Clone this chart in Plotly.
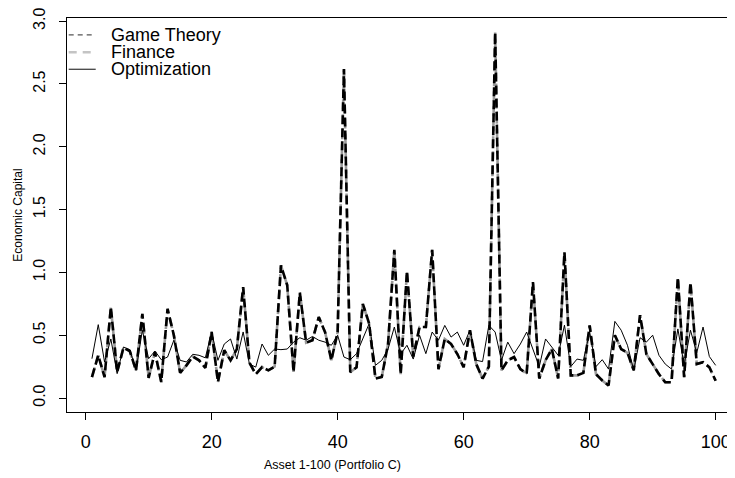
import plotly.graph_objects as go

# asset index and economic capital per allocation method
assets = list(range(1, 101))

game_theory = [
    0.167, 0.34, 0.167, 0.724, 0.207, 0.40, 0.374, 0.22, 0.67, 0.16,
    0.366, 0.127, 0.71, 0.50, 0.20, 0.26, 0.33, 0.30, 0.24, 0.526,
    0.128, 0.38, 0.30, 0.39, 0.883, 0.28, 0.19, 0.246, 0.22, 0.25,
    1.056, 0.897, 0.207, 0.84, 0.44, 0.46, 0.645, 0.525, 0.30, 0.525,
    2.62, 0.205, 0.245, 0.75, 0.592, 0.155, 0.167, 0.43, 1.18, 0.19,
    1.01, 0.33, 0.565, 0.565, 1.18, 0.23, 0.47, 0.43, 0.35, 0.245,
    0.54, 0.27, 0.155, 0.25, 2.91, 0.22, 0.30, 0.326, 0.23, 0.195,
    0.923, 0.155, 0.30, 0.39, 0.155, 1.16, 0.18, 0.18, 0.20, 0.578,
    0.19, 0.14, 0.10, 0.50, 0.39, 0.36, 0.22, 0.66, 0.35, 0.27,
    0.19, 0.125, 0.125, 0.96, 0.165, 0.92, 0.27, 0.285, 0.245, 0.137,
]

finance = [
    0.167, 0.34, 0.167, 0.724, 0.207, 0.40, 0.374, 0.22, 0.67, 0.16,
    0.366, 0.127, 0.71, 0.50, 0.20, 0.26, 0.33, 0.30, 0.24, 0.526,
    0.128, 0.38, 0.30, 0.39, 0.883, 0.28, 0.19, 0.246, 0.22, 0.25,
    1.056, 0.897, 0.207, 0.84, 0.44, 0.46, 0.645, 0.525, 0.30, 0.525,
    2.62, 0.205, 0.245, 0.75, 0.592, 0.155, 0.167, 0.43, 1.18, 0.19,
    1.01, 0.33, 0.565, 0.565, 1.18, 0.23, 0.47, 0.43, 0.35, 0.245,
    0.54, 0.27, 0.155, 0.25, 2.91, 0.22, 0.30, 0.326, 0.23, 0.195,
    0.923, 0.155, 0.30, 0.39, 0.155, 1.16, 0.18, 0.18, 0.20, 0.578,
    0.19, 0.14, 0.10, 0.50, 0.39, 0.36, 0.22, 0.66, 0.35, 0.27,
    0.19, 0.125, 0.125, 0.96, 0.165, 0.92, 0.27, 0.285, 0.245, 0.137,
]

optimization = [
    0.313, 0.584, 0.287, 0.47, 0.194, 0.406, 0.385, 0.22, 0.539, 0.313,
    0.374, 0.305, 0.326, 0.46, 0.30, 0.287, 0.348, 0.34, 0.32, 0.526,
    0.30, 0.43, 0.47, 0.31, 0.526, 0.27, 0.246, 0.43, 0.34, 0.39,
    0.385, 0.39, 0.445, 0.48, 0.46, 0.49, 0.46, 0.445, 0.42, 0.50,
    0.326, 0.305, 0.353, 0.48, 0.592, 0.26, 0.30, 0.39, 0.565, 0.35,
    0.42, 0.31, 0.50, 0.353, 0.525, 0.46, 0.578, 0.485, 0.525, 0.42,
    0.54, 0.30, 0.29, 0.578, 0.525, 0.30, 0.445, 0.353, 0.43, 0.525,
    0.38, 0.25, 0.47, 0.405, 0.34, 0.58, 0.25, 0.31, 0.30, 0.525,
    0.25, 0.305, 0.23, 0.61, 0.54, 0.42, 0.22, 0.48, 0.445, 0.50,
    0.34, 0.27, 0.23, 0.55, 0.26, 0.54, 0.36, 0.565, 0.33, 0.26,
]

y_ticks = [0.0, 0.5, 1.0, 1.5, 2.0, 2.5, 3.0]
x_ticks = [0, 20, 40, 60, 80, 100]

legend_names = ["Game Theory", "Finance", "Optimization"]
legend_colors = ["#555555", "#c4c4c4", "#333333"]
legend_widths = [1.2, 2.4, 1.2]
legend_dashes = ["5px,4px", "8px,6px", "solid"]

FONT = "Liberation Sans, Arial, sans-serif"

# page has an 8px body margin, so the div is shifted by 8px; plot box in page px
PAD = 8
BOX_L, BOX_T, BOX_B, BOX_R = 67.3, 17.5, 411.7, 735
PW, PH = BOX_R - BOX_L, BOX_B - BOX_T


def px(xp):
    return (xp - BOX_L) / PW


def py(yp):
    return (BOX_B - yp) / PH


fig = go.Figure()

fig.add_trace(go.Scatter(x=assets, y=finance, mode="lines", name="Finance",
                         showlegend=False,
                         line=dict(color="#9a9a9a", width=2.6, dash="10px,5px")))
fig.add_trace(go.Scatter(x=assets, y=game_theory, mode="lines", name="Game Theory",
                         showlegend=False,
                         line=dict(color="black", width=2.6, dash="9px,4px")))
fig.add_trace(go.Scatter(x=assets, y=optimization, mode="lines", name="Optimization",
                         showlegend=False,
                         line=dict(color="black", width=1)))

fig.update_layout(
    width=735 - PAD, height=478 - PAD,
    margin=dict(l=BOX_L - PAD, r=0, t=BOX_T - PAD, b=478 - BOX_B),
    paper_bgcolor="white", plot_bgcolor="white",
    font=dict(family=FONT, color="black"),
    showlegend=False,
)

fig.update_xaxes(
    range=[-2.96, 103.07], tickvals=x_ticks, showgrid=False, zeroline=False,
    showline=True, linecolor="black", linewidth=1, mirror=True,
    ticks="outside", ticklen=7, tickcolor="black",
    tickfont=dict(size=18), ticklabelstandoff=6, ticklabeloverflow="allow",
)
fig.update_yaxes(
    range=[-0.1114, 3.0254], tickvals=y_ticks, tickformat=".1f",
    showgrid=False, zeroline=False,
    showline=True, linecolor="black", linewidth=1, mirror=False,
    ticks="outside", ticklen=7, tickcolor="black",
    tickangle=-90, tickfont=dict(size=16), ticklabelstandoff=8,
    ticklabeloverflow="allow",
)

# legend drawn by hand (R style: keys at top-left, no box)
legend_y = [34.3, 51.7, 68.8]
for name, col, w, d, yy in zip(legend_names, legend_colors, legend_widths,
                               legend_dashes, legend_y):
    fig.add_shape(type="line", xref="paper", yref="paper",
                  x0=px(69), x1=px(96), y0=py(yy), y1=py(yy),
                  line=dict(color=col, width=w, dash=d))
    fig.add_annotation(text=name, xref="paper", yref="paper",
                       x=px(109), y=py(yy), xanchor="left", yanchor="middle",
                       showarrow=False, font=dict(size=18, family=FONT))

fig.add_annotation(text="Asset 1-100 (Portfolio C)", xref="paper", yref="paper",
                   x=px(333), y=py(465), xanchor="center", yanchor="middle",
                   showarrow=False, font=dict(size=12.5, family=FONT))
fig.add_annotation(text="Economic Capital", xref="paper", yref="paper",
                   x=px(18), y=0.5, textangle=-90,
                   xanchor="center", yanchor="middle", showarrow=False,
                   font=dict(size=12, family=FONT))

fig.write_html("out.html")
